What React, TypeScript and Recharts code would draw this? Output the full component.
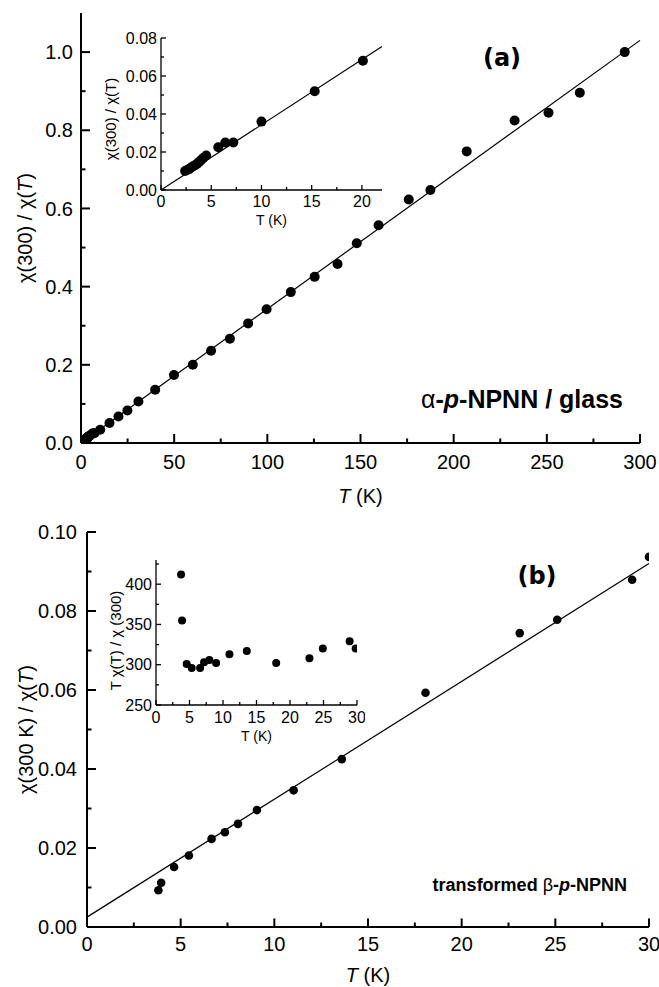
import React from "react"
import { ScatterChart, Scatter, XAxis, YAxis, ReferenceLine } from "recharts"

// (a) alpha-p-NPNN / glass : chi(300)/chi(T) vs T
const lowTempA = [2.4, 2.6, 2.8, 3.0, 3.2, 3.4, 3.6, 3.8, 4.0, 4.2, 4.5, 5.7, 6.4, 7.2]
const lowRatioA = [0.01, 0.0105, 0.011, 0.0118, 0.0125, 0.013, 0.0138, 0.0148, 0.0158, 0.0168, 0.0182, 0.0225, 0.025, 0.025]
const highTempA = [10.3, 15.3, 20.1, 24.9, 30.8, 39.8, 49.9, 60, 69.8, 79.9, 89.7, 99.6, 112.6, 125.4, 137.7, 148, 159.7, 175.9, 187.5, 207, 232.7, 250.9, 267.7, 291.8]
const highRatioA = [0.034, 0.051, 0.068, 0.083, 0.106, 0.136, 0.174, 0.2, 0.236, 0.267, 0.306, 0.342, 0.386, 0.425, 0.458, 0.511, 0.557, 0.623, 0.647, 0.746, 0.825, 0.845, 0.896, 1.0]
const insetTempA = [...lowTempA, 10.0, 15.3, 20.1]
const insetRatioA = [...lowRatioA, 0.036, 0.052, 0.068]
const fitTempA = [0, 300]
const fitRatioA = [0, 1.03]
const insetFitTempA = [0, 22]
const insetFitRatioA = [0, 0.0755]

// (b) transformed beta-p-NPNN
const tempB = [3.81, 3.96, 4.65, 5.44, 6.65, 7.36, 8.06, 9.07, 11.03, 13.6, 18.07, 23.1, 25.1, 29.1, 30.0]
const ratioB = [0.0093, 0.0112, 0.0152, 0.0181, 0.0223, 0.024, 0.0261, 0.0296, 0.0346, 0.0425, 0.0593, 0.0744, 0.0778, 0.0879, 0.0937]
const fitTempB = [0, 30]
const fitRatioB = [0.0025, 0.092]
const insetTempB = [3.74, 3.89, 4.58, 5.33, 6.58, 7.17, 7.97, 8.97, 10.96, 13.55, 17.94, 22.9, 24.9, 28.9, 29.8]
const insetProdB = [412, 355, 301, 296, 296, 303, 306, 302, 313, 317, 302, 308, 320, 329, 320]

// ticks
const xMajorA = [0, 50, 100, 150, 200, 250, 300]
const xMinorA = [25, 75, 125, 175, 225, 275]
const yMajorA = [0, 0.2, 0.4, 0.6, 0.8, 1.0]
const yMinorA = [0.1, 0.3, 0.5, 0.7, 0.9]
const xMajorInA = [0, 5, 10, 15, 20]
const xMinorInA = [2.5, 7.5, 12.5, 17.5]
const yMajorInA = [0, 0.02, 0.04, 0.06, 0.08]
const yMinorInA = [0.01, 0.03, 0.05, 0.07]
const xMajorB = [0, 5, 10, 15, 20, 25, 30]
const xMinorB = [2.5, 7.5, 12.5, 17.5, 22.5, 27.5]
const yMajorB = [0, 0.02, 0.04, 0.06, 0.08, 0.1]
const yMinorB = [0.01, 0.03, 0.05, 0.07, 0.09]
const yMajorInB = [250, 300, 350, 400]
const yMinorInB = [275, 325, 375, 425]

const FONT = "Arial, 'Liberation Sans', Helvetica, sans-serif"

const pts = (ts: number[], vs: number[]) => ts.map((T, i) => ({ T, v: vs[i] }))
const seg = (ts: number[], vs: number[]) => ts.map((x, i) => ({ x, y: vs[i] }))
const isIn = (arr: number[], v: number) => arr.some((a) => Math.abs(a - v) < 1e-9)

const dot = (r: number) => (p: any) => <circle cx={p.cx} cy={p.cy} r={r} fill="#000" />

function bottomTicks(majors: number[], fmt: (v: number) => string, fs: number, len: number[], gap: number, sw: number) {
  return (p: any) => {
    const v = p.payload.value
    const major = isIn(majors, v)
    return (
      <g>
        <line x1={p.x} x2={p.x} y1={p.y} y2={p.y - (major ? len[0] : len[1])} stroke="#000" strokeWidth={sw} />
        {major && (
          <text x={p.x} y={p.y + gap} textAnchor="middle" fontSize={fs} fill="#000">
            {fmt(v)}
          </text>
        )}
      </g>
    )
  }
}

function topTicks(majors: number[], len: number[], sw: number) {
  return (p: any) => {
    const major = isIn(majors, p.payload.value)
    return <line x1={p.x} x2={p.x} y1={p.y} y2={p.y + (major ? len[0] : len[1])} stroke="#000" strokeWidth={sw} />
  }
}

function leftTicks(majors: number[], fmt: (v: number) => string, fs: number, len: number[], gap: number, sw: number) {
  return (p: any) => {
    const v = p.payload.value
    const major = isIn(majors, v)
    return (
      <g>
        <line x1={p.x} x2={p.x + (major ? len[0] : len[1])} y1={p.y} y2={p.y} stroke="#000" strokeWidth={sw} />
        {major && (
          <text x={p.x - gap} y={p.y} dy="0.36em" textAnchor="end" fontSize={fs} fill="#000">
            {fmt(v)}
          </text>
        )}
      </g>
    )
  }
}

const yTitle = (content: React.ReactNode, x: number, fs: number, dy = 0) => (p: any) => {
  const vb = p.viewBox
  const cy = vb.y + vb.height / 2 + dy
  return (
    <text x={x} y={cy} transform={`rotate(-90 ${x} ${cy})`} textAnchor="middle" fontSize={fs} fill="#000">
      {content}
    </text>
  )
}

const xTitle = (content: React.ReactNode, dy: number, fs: number) => (p: any) => {
  const vb = p.viewBox
  return (
    <text x={vb.x + vb.width / 2} y={vb.y + dy} textAnchor="middle" fontSize={fs} fill="#000">
      {content}
    </text>
  )
}

const it = (s: string) => <tspan fontStyle="italic">{s}</tspan>

interface PanelProps {
  left: number
  top: number
  width: number
  height: number
  margin: { top: number; right: number; bottom: number; left: number }
  yWidth: number
  xHeight: number
  xDomain: number[]
  yDomain: number[]
  xMajor: number[]
  xMinor: number[]
  yMajor: number[]
  yMinor: number[]
  xFmt: (v: number) => string
  yFmt: (v: number) => string
  fs: number
  sw: number
  lenBottom: number[]
  lenLeft: number[]
  lenTop: number[]
  xGap: number
  yGap: number
  xLabel: any
  yLabel: any
  data: { T: number; v: number }[]
  fit?: { x: number; y: number }[]
  r: number
}

function Panel(props: PanelProps) {
  const { margin, xDomain, yDomain, sw } = props
  const axisLine = { stroke: "#000", strokeWidth: sw }
  return (
    <div style={{ position: "absolute", left: props.left, top: props.top }}>
      <ScatterChart width={props.width} height={props.height} margin={margin}>
        <XAxis
          xAxisId="b"
          type="number"
          dataKey="T"
          domain={xDomain}
          allowDataOverflow
          ticks={[...props.xMajor, ...props.xMinor]}
          interval={0}
          tickSize={0}
          tickMargin={0}
          tickLine={false}
          axisLine={axisLine}
          height={props.xHeight}
          tick={bottomTicks(props.xMajor, props.xFmt, props.fs, props.lenBottom, props.xGap, sw)}
          label={props.xLabel}
        />
        <XAxis
          xAxisId="t"
          orientation="top"
          type="number"
          dataKey="T"
          domain={xDomain}
          allowDataOverflow
          ticks={[...props.xMajor, ...props.xMinor]}
          interval={0}
          tickSize={0}
          tickMargin={0}
          tickLine={false}
          axisLine={axisLine}
          height={0}
          tick={topTicks(props.xMajor, props.lenTop, sw)}
        />
        <YAxis
          yAxisId="l"
          type="number"
          dataKey="v"
          domain={yDomain}
          allowDataOverflow
          ticks={[...props.yMajor, ...props.yMinor]}
          interval={0}
          tickSize={0}
          tickMargin={0}
          tickLine={false}
          axisLine={axisLine}
          width={props.yWidth}
          tick={leftTicks(props.yMajor, props.yFmt, props.fs, props.lenLeft, props.yGap, sw)}
          label={props.yLabel}
        />
        <YAxis
          yAxisId="r"
          orientation="right"
          type="number"
          dataKey="v"
          domain={yDomain}
          allowDataOverflow
          width={0}
          tick={false}
          tickLine={false}
          axisLine={axisLine}
        />
        {props.fit && (
          <ReferenceLine xAxisId="b" yAxisId="l" segment={props.fit} stroke="#000" strokeWidth={1.2} ifOverflow="visible" />
        )}
        <Scatter xAxisId="b" yAxisId="l" data={props.data} shape={dot(props.r)} isAnimationActive={false} />
      </ScatterChart>
    </div>
  )
}

export default function App() {
  return (
    <div style={{ position: "absolute", left: 0, top: 0, width: 659, height: 987, background: "#fff", fontFamily: FONT, overflow: "hidden" }}>
      {/* panel (a) */}
      <Panel
        left={0}
        top={0}
        width={659}
        height={520}
        margin={{ top: 13, right: 19, bottom: 0, left: 0 }}
        yWidth={81}
        xHeight={77}
        xDomain={[0, 300]}
        yDomain={[0, 1.1]}
        xMajor={xMajorA}
        xMinor={xMinorA}
        yMajor={yMajorA}
        yMinor={yMinorA}
        xFmt={(v) => String(v)}
        yFmt={(v) => v.toFixed(1)}
        fs={20}
        sw={2}
        lenBottom={[9, 4.5]}
        lenLeft={[9, 4.5]}
        lenTop={[7, 5]}
        xGap={26}
        yGap={8}
        xLabel={xTitle(<>{it("T")} (K)</>, 60, 20)}
        yLabel={yTitle(<>χ(300) / χ({it("T")})</>, 32, 20)}
        data={[...pts(lowTempA, lowRatioA), ...pts(highTempA, highRatioA)]}
        fit={seg(fitTempA, fitRatioA)}
        r={5}
      />
      <Panel
        left={100}
        top={30}
        width={290}
        height={200}
        margin={{ top: 8, right: 8, bottom: 0, left: 0 }}
        yWidth={61}
        xHeight={40}
        xDomain={[0, 22]}
        yDomain={[0, 0.08]}
        xMajor={xMajorInA}
        xMinor={xMinorInA}
        yMajor={yMajorInA}
        yMinor={yMinorInA}
        xFmt={(v) => String(v)}
        yFmt={(v) => v.toFixed(2)}
        fs={16}
        sw={1.3}
        lenBottom={[5, 3]}
        lenLeft={[5, 3]}
        lenTop={[5, 3]}
        xGap={17}
        yGap={4}
        xLabel={xTitle("T (K)", 35, 14)}
        yLabel={yTitle("χ(300) / χ(T)", 16, 15, 5)}
        data={pts(insetTempA, insetRatioA)}
        fit={seg(insetFitTempA, insetFitRatioA)}
        r={5}
      />
      {/* panel (b) */}
      <Panel
        left={0}
        top={500}
        width={659}
        height={487}
        margin={{ top: 32, right: 10, bottom: 0, left: 0 }}
        yWidth={87}
        xHeight={60}
        xDomain={[0, 30]}
        yDomain={[0, 0.1]}
        xMajor={xMajorB}
        xMinor={xMinorB}
        yMajor={yMajorB}
        yMinor={yMinorB}
        xFmt={(v) => String(v)}
        yFmt={(v) => v.toFixed(2)}
        fs={20}
        sw={2}
        lenBottom={[8.5, 4.5]}
        lenLeft={[9, 4.5]}
        lenTop={[7, 4]}
        xGap={24}
        yGap={10}
        xLabel={xTitle(<>{it("T")} (K)</>, 55, 20)}
        yLabel={yTitle(<>χ(300 K) / χ({it("T")})</>, 33, 20)}
        data={pts(tempB, ratioB)}
        fit={seg(fitTempB, fitRatioB)}
        r={4.3}
      />
      <Panel
        left={90}
        top={550}
        width={275}
        height={195}
        margin={{ top: 10, right: 8, bottom: 0, left: 0 }}
        yWidth={66}
        xHeight={40}
        xDomain={[0, 30]}
        yDomain={[250, 430]}
        xMajor={xMajorB}
        xMinor={xMinorB}
        yMajor={yMajorInB}
        yMinor={yMinorInB}
        xFmt={(v) => String(v)}
        yFmt={(v) => String(v)}
        fs={16}
        sw={1.3}
        lenBottom={[5, 3]}
        lenLeft={[5, 3]}
        lenTop={[5, 3]}
        xGap={18}
        yGap={4}
        xLabel={xTitle("T (K)", 36, 14)}
        yLabel={yTitle("T χ(T) / χ (300)", 31, 15, 8)}
        data={pts(insetTempB, insetProdB)}
        r={4}
      />
      <svg width={659} height={987} style={{ position: "absolute", left: 0, top: 0, pointerEvents: "none" }}>
        <text x={502} y={66} textAnchor="middle" fontSize={24} fontWeight="bold" fontFamily="'DejaVu Sans', sans-serif">
          (a)
        </text>
        <text x={537} y={584} textAnchor="middle" fontSize={24} fontWeight="bold" fontFamily="'DejaVu Sans', sans-serif">
          (b)
        </text>
        <text x={623} y={408} textAnchor="end" fontSize={25} fontWeight="bold">
          <tspan fontWeight="normal">α</tspan>-<tspan fontStyle="italic">p</tspan>-NPNN / glass
        </text>
        <text x={627} y={891} textAnchor="end" fontSize={18} fontWeight="bold">
          transformed <tspan fontWeight="normal">β</tspan>-<tspan fontStyle="italic">p</tspan>-NPNN
        </text>
      </svg>
    </div>
  )
}
